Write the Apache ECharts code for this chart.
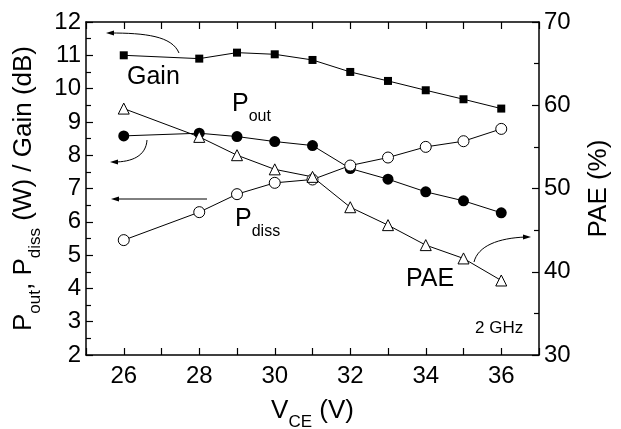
<!DOCTYPE html>
<html>
<head>
<meta charset="utf-8">
<script src="https://cdn.jsdelivr.net/npm/echarts@6/dist/echarts.min.js"></script>
<style>
    html, body { margin: 0; padding: 0; background: #fff; }
    #chart { width: 621px; height: 429px; }
</style>
</head>
<body>
<div id="chart"></div>
<script>
// V_CE (V) values of the measured points
var vce = [26, 28, 29, 30, 31, 32, 33, 34, 35, 36];
var gain = [11.0, 10.9, 11.08, 11.03, 10.86, 10.5, 10.23, 9.95, 9.68, 9.4];      // dB
var pout = [8.58, 8.66, 8.56, 8.41, 8.29, 7.6, 7.28, 6.9, 6.63, 6.27];          // W
var pdiss = [5.45, 6.29, 6.83, 7.17, 7.27, 7.69, 7.93, 8.25, 8.42, 8.79];        // W
var pae = [59.6, 56.2, 54.0, 52.3, 51.4, 47.75, 45.6, 43.2, 41.6, 38.95];        // %

var FONT = '"Liberation Sans", Arial, sans-serif';

function pairs(ys) {
    return vce.map(function (x, i) { return [x, ys[i]]; });
}

// small filled arrow head, tip at (tx,ty), coming from (fx,fy)
function arrowHead(tx, ty, fx, fy) {
    var dx = tx - fx, dy = ty - fy;
    var len = Math.sqrt(dx * dx + dy * dy);
    dx /= len; dy /= len;
    var L = 8, W = 2.5;
    var bx = tx - dx * L, by = ty - dy * L;
    return {
        type: 'polygon',
        shape: { points: [[tx, ty], [bx - dy * W, by + dx * W], [bx + dy * W, by - dx * W]] },
        style: { fill: '#000' }
    };
}

function curve(x1, y1, c1x, c1y, c2x, c2y, x2, y2) {
    return {
        type: 'bezierCurve',
        shape: { x1: x1, y1: y1, cpx1: c1x, cpy1: c1y, cpx2: c2x, cpy2: c2y, x2: x2, y2: y2 },
        style: { stroke: '#000', lineWidth: 1, fill: null }
    };
}

// main text + subscript
var richSub = {
    m: { fontSize: 25, fontFamily: FONT, color: '#000', lineHeight: 40 },
    s: { fontSize: 16, fontFamily: FONT, color: '#000', lineHeight: 14, verticalAlign: 'bottom' }
};
var richTitle = {
    m: { fontSize: 26, fontFamily: FONT, color: '#000', lineHeight: 40 },
    s: { fontSize: 17, fontFamily: FONT, color: '#000', lineHeight: 14, verticalAlign: 'bottom' }
};

var myChart = echarts.init(document.getElementById('chart'));

var baseLine = { show: true, onZero: false, lineStyle: { color: '#000', width: 1.5 } };
var tickIn = { show: true, inside: true, length: 7, lineStyle: { color: '#000', width: 1.2 } };
var minorIn = { show: true, splitNumber: 2, length: 5, lineStyle: { color: '#000', width: 1.2 } };
var tickFont = { fontSize: 24, fontFamily: FONT, color: '#000' };

myChart.setOption({
    animation: false,
    backgroundColor: '#fff',
    grid: { left: 86, right: 82, top: 22, bottom: 74, outerBoundsMode: 'none', containLabel: false },
    xAxis: [
        {
            type: 'value',
            min: 25,
            max: 37,
            interval: 1,
            axisLine: baseLine,
            axisTick: tickIn,
            splitLine: { show: false },
            axisLabel: Object.assign({
                margin: 9,
                formatter: function (v) { return v % 2 === 0 ? String(v) : ''; }
            }, tickFont),
            name: '{m|V}{s|CE}{m| (V)}',
            nameLocation: 'middle',
            nameGap: 36,
            nameTextStyle: { rich: richTitle }
        },
        {
            type: 'value',
            position: 'top',
            min: 25,
            max: 37,
            interval: 1,
            axisLine: baseLine,
            axisTick: tickIn,
            axisLabel: { show: false },
            splitLine: { show: false }
        }
    ],
    yAxis: [
        {
            type: 'value',
            min: 2,
            max: 12,
            interval: 1,
            axisLine: baseLine,
            axisTick: tickIn,
            minorTick: minorIn,
            splitLine: { show: false },
            axisLabel: Object.assign({ margin: 5 }, tickFont),
            name: '{m|P}{s|out}{m|, P}{s|diss}{m| (W) / Gain (dB)}',
            nameLocation: 'middle',
            nameGap: 40,
            nameTextStyle: { rich: richTitle }
        },
        {
            type: 'value',
            min: 30,
            max: 70,
            interval: 10,
            axisLine: baseLine,
            axisTick: tickIn,
            minorTick: minorIn,
            splitLine: { show: false },
            axisLabel: Object.assign({ margin: 5 }, tickFont),
            name: 'PAE (%)',
            nameLocation: 'middle',
            nameGap: 47,
            nameRotate: 90,
            nameTextStyle: { fontSize: 26, fontFamily: FONT, color: '#000' }
        }
    ],
    series: [
        {
            name: 'Gain',
            type: 'line',
            data: pairs(gain),
            symbol: 'rect',
            symbolSize: 8,
            lineStyle: { color: '#000', width: 1 },
            itemStyle: { color: '#000' }
        },
        {
            name: 'Pout',
            type: 'line',
            data: pairs(pout),
            symbol: 'circle',
            symbolSize: 11,
            lineStyle: { color: '#000', width: 1 },
            itemStyle: { color: '#000' }
        },
        {
            name: 'Pdiss',
            type: 'line',
            data: pairs(pdiss),
            symbol: 'circle',
            symbolSize: 11,
            lineStyle: { color: '#000', width: 1 },
            itemStyle: { color: '#fff', borderColor: '#000', borderWidth: 1 }
        },
        {
            name: 'PAE',
            type: 'line',
            yAxisIndex: 1,
            data: pairs(pae),
            symbol: 'triangle',
            symbolSize: 11,
            lineStyle: { color: '#000', width: 1 },
            itemStyle: { color: '#fff', borderColor: '#000', borderWidth: 1 }
        }
    ],
    graphic: [
        { type: 'text', left: 127, top: 65, style: { text: 'Gain', fontSize: 25, fontFamily: FONT, fill: '#000' } },
        { type: 'text', left: 232, top: 92, style: { text: '{m|P}{s|out}', rich: richSub } },
        { type: 'text', left: 235, top: 207, style: { text: '{m|P}{s|diss}', rich: richSub } },
        { type: 'text', left: 406, top: 267, style: { text: 'PAE', fontSize: 25, fontFamily: FONT, fill: '#000' } },
        { type: 'text', left: 475, top: 320, style: { text: '2 GHz', fontSize: 17, fontFamily: FONT, fill: '#000' } },
        curve(179, 53, 172, 36, 145, 33, 110, 33),
        arrowHead(106, 33, 120, 33),
        curve(147, 140, 146, 156, 132, 162, 114, 162),
        arrowHead(110, 162, 122, 162),
        { type: 'line', shape: { x1: 207, y1: 199, x2: 115, y2: 199 }, style: { stroke: '#000', lineWidth: 1 } },
        arrowHead(111, 199, 125, 199),
        curve(474, 262, 478, 246, 498, 238, 526, 237),
        arrowHead(531, 237, 518, 237)
    ]
});
</script>
</body>
</html>
